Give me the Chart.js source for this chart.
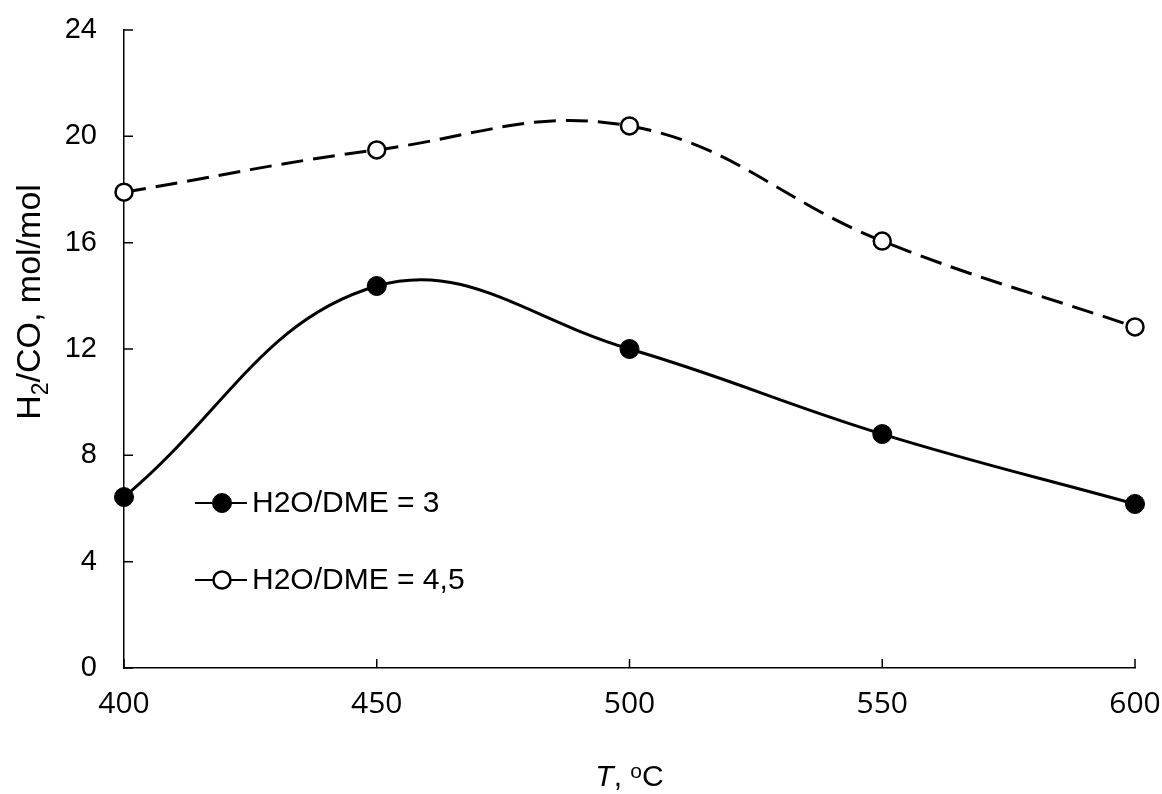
<!DOCTYPE html>
<html>
<head>
<meta charset="utf-8">
<script src="https://cdn.jsdelivr.net/npm/chart.js@4.4.0/dist/chart.umd.min.js"></script>
<style>
  html, body { margin: 0; padding: 0; background: #fff; }
</style>
</head>
<body>
<canvas id="h2coChart" width="1162" height="794"></canvas>
<script>
// data
const temps = [400, 450, 500, 550, 600];
const ratioDme3 = [6.43, 14.37, 12.0, 8.8, 6.17];
const ratioDme45 = [17.9, 19.49, 20.39, 16.06, 12.83];
const xTickValues = [400, 450, 500, 550, 600];
const yTickValues = [0, 4, 8, 12, 16, 20, 24];
const seriesLabels = ['H2O/DME = 3', 'H2O/DME = 4,5'];

const ARIAL = '"Liberation Sans", Arial, sans-serif';

// inward tick marks on both axes
const innerTicks = {
  id: 'innerTicks',
  afterDraw(chart) {
    const ctx = chart.ctx, area = chart.chartArea;
    const xs = chart.scales.x, ys = chart.scales.y;
    ctx.save();
    ctx.strokeStyle = '#000';
    ctx.lineWidth = 1.5;
    ctx.beginPath();
    ys.ticks.forEach(t => {
      const py = ys.getPixelForValue(t.value);
      ctx.moveTo(area.left, py);
      ctx.lineTo(area.left + 9, py);
    });
    xs.ticks.forEach(t => {
      const px = xs.getPixelForValue(t.value);
      ctx.moveTo(px, area.bottom);
      ctx.lineTo(px, area.bottom - 9);
    });
    ctx.stroke();
    ctx.restore();
  }
};

// axis titles with sub/superscripts
const axisTitles = {
  id: 'axisTitles',
  afterDraw(chart) {
    const ctx = chart.ctx, area = chart.chartArea;
    ctx.save();
    ctx.fillStyle = '#000';
    ctx.textBaseline = 'alphabetic';

    // y title: H2/CO, mol/mol
    const big = '34px ' + ARIAL, small = '23px ' + ARIAL;
    const yParts = [['H', big, 0], ['2', small, 8], ['/CO, mol/mol', big, 0]];
    let total = 0;
    yParts.forEach(p => { ctx.font = p[1]; total += ctx.measureText(p[0]).width; });
    ctx.translate(40, 302);
    ctx.rotate(-Math.PI / 2);
    let x = -total / 2;
    yParts.forEach(p => {
      ctx.font = p[1];
      ctx.fillText(p[0], x, p[2]);
      x += ctx.measureText(p[0]).width;
    });
    ctx.setTransform(1, 0, 0, 1, 0, 0);

    // x title: T, oC
    const xb = '30px ' + ARIAL;
    const xParts = [['T', 'italic 30px ' + ARIAL, 0], [', ', xb, 0], ['o', '21px ' + ARIAL, -8], ['C', xb, 0]];
    total = 0;
    xParts.forEach(p => { ctx.font = p[1]; total += ctx.measureText(p[0]).width; });
    x = (area.left + area.right) / 2 - total / 2;
    xParts.forEach(p => {
      ctx.font = p[1];
      ctx.fillText(p[0], x, 786 + p[2]);
      x += ctx.measureText(p[0]).width;
    });
    ctx.restore();
  }
};

// legend inside the plot, lower left
const innerLegend = {
  id: 'innerLegend',
  afterDraw(chart) {
    const ctx = chart.ctx;
    ctx.save();
    chart.data.datasets.forEach((ds, i) => {
      const cy = 503 + i * 77;
      ctx.strokeStyle = '#000';
      ctx.lineWidth = 2;
      ctx.beginPath();
      ctx.moveTo(195, cy);
      ctx.lineTo(247, cy);
      ctx.stroke();
      ctx.beginPath();
      ctx.arc(222, cy, ds.pointRadius, 0, Math.PI * 2);
      ctx.fillStyle = ds.pointBackgroundColor;
      ctx.fill();
      ctx.lineWidth = ds.pointBorderWidth;
      ctx.stroke();
      ctx.fillStyle = '#000';
      ctx.font = '30px ' + ARIAL;
      ctx.textBaseline = 'middle';
      ctx.fillText(ds.label, 252, cy + 1);
    });
    ctx.restore();
  }
};

// drop the label overhang padding so the layout padding fixes the plot box
function noOverhang(s) {
  s.paddingTop = 0;
  s.paddingBottom = 0;
  s.paddingLeft = 0;
  s.paddingRight = 0;
}

new Chart(document.getElementById('h2coChart'), {
  type: 'line',
  data: {
    datasets: [{
      label: seriesLabels[0],
      data: temps.map((t, i) => ({ x: t, y: ratioDme3[i] })),
      borderColor: '#000',
      borderWidth: 3,
      tension: 0.4,
      pointRadius: 9.5,
      pointBackgroundColor: '#000',
      pointBorderColor: '#000',
      pointBorderWidth: 1,
      clip: false
    }, {
      label: seriesLabels[1],
      data: temps.map((t, i) => ({ x: t, y: ratioDme45[i] })),
      borderColor: '#000',
      borderWidth: 3,
      borderDash: [22, 10],
      tension: 0.4,
      pointRadius: 8.5,
      pointBackgroundColor: '#fff',
      pointBorderColor: '#000',
      pointBorderWidth: 2.5,
      clip: false
    }]
  },
  options: {
    responsive: false,
    animation: false,
    layout: { padding: { left: 0, top: 30, right: 27, bottom: 0 } },
    plugins: {
      legend: { display: false },
      tooltip: { enabled: false }
    },
    scales: {
      x: {
        type: 'linear',
        min: 400,
        max: 600,
        afterBuildTicks: s => { s.ticks = xTickValues.map(v => ({ value: v })); },
        afterFit: s => { s.height = 126; noOverhang(s); },
        grid: { display: false, drawTicks: false },
        border: { color: '#000', width: 1.5 },
        ticks: {
          color: '#000',
          padding: 18,
          font: { family: '"Open Sans", sans-serif', size: 30 }
        }
      },
      y: {
        min: 0,
        max: 24,
        afterBuildTicks: s => { s.ticks = yTickValues.map(v => ({ value: v })); },
        afterFit: s => { s.width = 124; noOverhang(s); },
        grid: { display: false, drawTicks: false },
        border: { color: '#000', width: 1.5 },
        ticks: {
          color: '#000',
          padding: 27,
          font: { family: ARIAL, size: 29 }
        }
      }
    }
  },
  plugins: [innerTicks, axisTitles, innerLegend]
});
</script>
</body>
</html>
